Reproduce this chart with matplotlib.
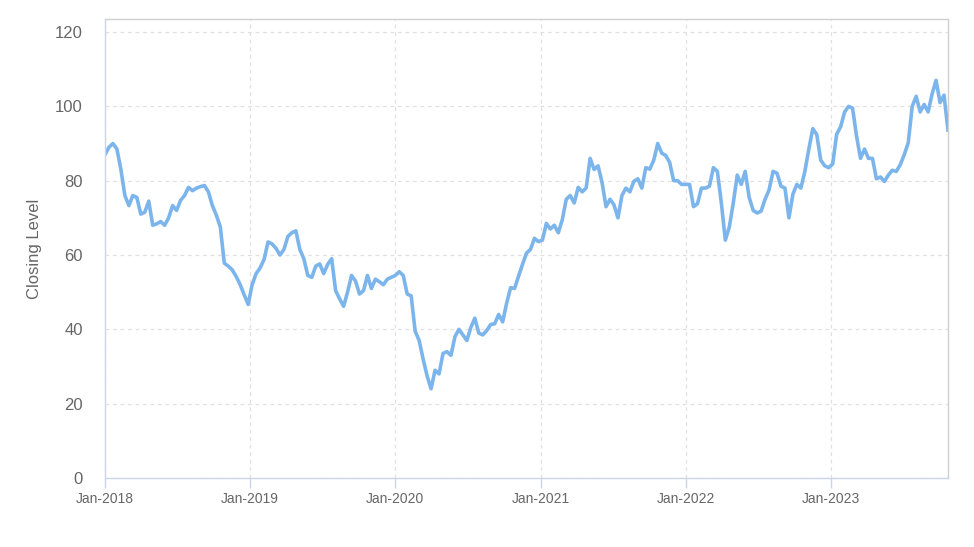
import matplotlib
matplotlib.use("Agg")
import matplotlib.pyplot as plt
import matplotlib.dates as mdates
import pandas as pd

# closing level, one reading every 10 days from 1 Jan 2018
start_date = "2018-01-01"
step = "10D"
closing = [
    # 2018
    87, 89, 90, 88.5, 83, 76, 73.3, 76, 75.5, 71, 71.5, 74.5, 68, 68.4, 69, 68,
    70, 73.3, 72, 74.7, 76, 78.2, 77.3, 78, 78.4, 78.7, 77, 73.3, 70.7, 67.6,
    57.8, 57, 56, 54.2, 52, 49.3, 46.7,
    # 2019
    52, 55, 56.5, 58.8, 63.5, 63, 61.8, 60, 61.5, 65, 66, 66.5, 61.5, 59, 54.5,
    54, 57, 57.6, 55, 57.5, 59, 50.4, 48.2, 46.2, 50, 54.5, 53, 49.5, 50.4,
    54.5, 51, 53.5, 52.8, 52, 53.5, 54, 54.5,
    # 2020
    55.5, 54.5, 49.5, 49, 39.5, 37, 32, 27.5, 24, 29, 28, 33.5, 34, 33, 38, 40,
    38.5, 37, 40.5, 43, 39, 38.5, 39.7, 41.3, 41.5, 44, 42, 47, 51.2, 51, 54.3,
    57.5, 60.5, 61.5,
    # 2021
    64.5, 63.6, 64, 68.5, 67, 68, 66, 69.5, 75, 76, 74, 78.2, 77, 78, 86, 83,
    84, 79.5, 73, 75, 73.5, 70, 76, 78, 77, 79.8, 80.5, 78, 83.5, 83.1, 85.5,
    90, 87.4, 86.8, 84.9, 80, 80, 79, 79,
    # 2022
    79, 73, 73.8, 78, 78, 78.5, 83.5, 82.5, 74, 64, 67.5, 74, 81.5, 79, 82.5,
    75.5, 72, 71.3, 71.8, 75, 77.5, 82.5, 82, 78.5, 78, 70, 76.4, 79, 78, 82.5,
    88.5, 94, 92.4, 85.5, 84, 83.5, 84.5,
    # 2023
    92.5, 94.5, 98.5, 100, 99.5, 92, 86, 88.5, 86, 86, 80.5, 81, 79.8, 81.5,
    82.8, 82.5, 84.3, 87, 90.2, 100, 102.7, 98.5, 100.5, 98.5, 103.3, 107, 101,
    103, 93.6,
]
y_ticks = [0, 20, 40, 60, 80, 100, 120]
y_label = "Closing Level"

dates = pd.date_range(start_date, periods=len(closing), freq=step)

fig = plt.figure(figsize=(9.74, 5.47), dpi=100)
ax = fig.add_axes([105 / 974, 1 - 478 / 547, (948 - 105) / 974, (478 - 19) / 547])

ax.plot(dates, closing, color="#7cb5ec", linewidth=2.6, solid_joinstyle="round")

ax.set_xlim(dates[0], dates[-1])
ax.set_ylim(0, 123.5)
ax.set_yticks(y_ticks)

ax.xaxis.set_major_locator(mdates.YearLocator())
ax.xaxis.set_major_formatter(mdates.DateFormatter("%b-%Y"))

ax.grid(True, color="#e0e0e0", linestyle=(0, (3, 3)), linewidth=0.9)
ax.set_axisbelow(True)

for side in ("top", "right"):
    ax.spines[side].set_color("#d0d0d0")
ax.spines["left"].set_color("#ccd6eb")
ax.spines["bottom"].set_color("#ccd6eb")
for s in ax.spines.values():
    s.set_linewidth(1.0)

ax.tick_params(axis="y", length=0, pad=16, labelsize=12, labelcolor="#666666")
ax.tick_params(axis="x", length=7, width=1, color="#ccd6eb", pad=3,
               labelsize=10, labelcolor="#666666")
for lab in ax.get_xticklabels() + ax.get_yticklabels():
    lab.set_family("Liberation Sans")

ax.set_ylabel(y_label, fontsize=12, color="#666666", family="Liberation Sans",
              labelpad=9)

fig.savefig("out.png", dpi=100)
